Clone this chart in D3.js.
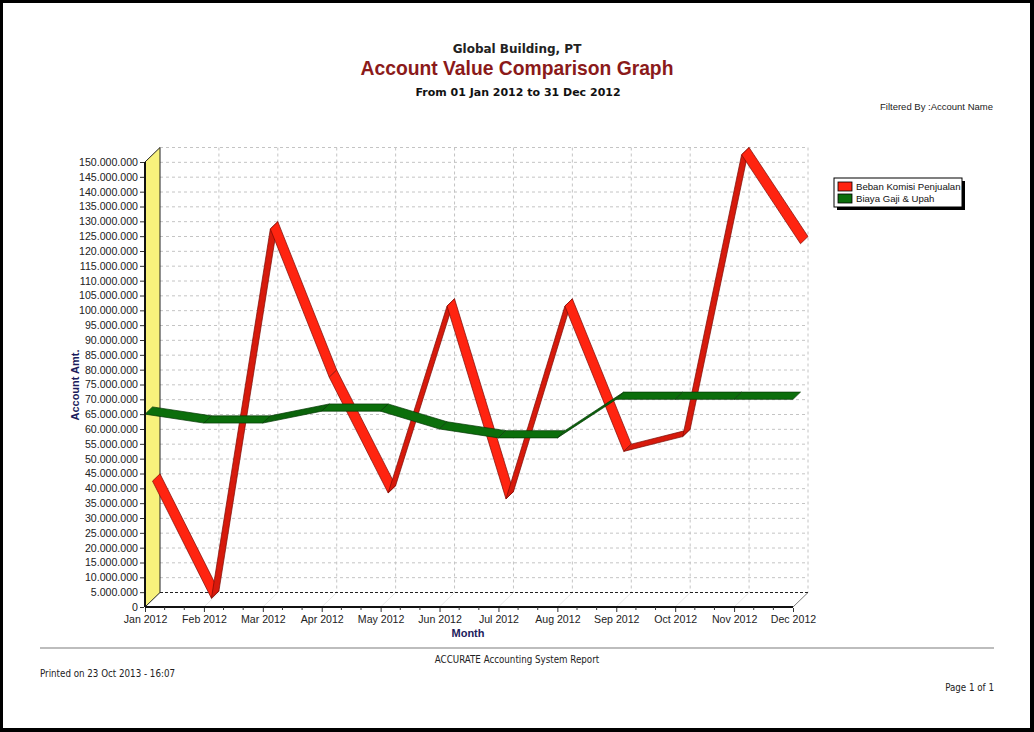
<!DOCTYPE html>
<html>
<head>
<meta charset="utf-8">
<script src="https://cdn.jsdelivr.net/npm/d3@7"></script>
<style>
  body { margin: 0; background: #000; }
  svg { display: block; }
</style>
</head>
<body>
<div id="chart"></div>
<script>
// *** DATA *** //
var months = ["Jan 2012", "Feb 2012", "Mar 2012", "Apr 2012", "May 2012", "Jun 2012",
              "Jul 2012", "Aug 2012", "Sep 2012", "Oct 2012", "Nov 2012", "Dec 2012"];
var beban_komisi = [40000000, 500000, 125000000, 75000000, 36000000, 99000000,
                    34000000, 99000000, 50000000, 55000000, 150000000, 120000000];
var biaya_gaji = [65000000, 62000000, 62000000, 66000000, 66000000, 60000000,
                  57000000, 57000000, 70000000, 70000000, 70000000, 70000000];
var series_names = ["Beban Komisi Penjualan", "Biaya Gaji & Upah"];
var y_ticks = d3.range(0, 150000001, 5000000);
// ************ //

var create_chart = function() {
  var width = 1034, height = 732;

  // Change these to fine-tune graph
  var plot = { left: 145, right: 793, top: 162, bottom: 607 };
  var depth = { dx: 15, dy: -14.5 };
  var label_font = "'Liberation Sans', Arial, sans-serif";
  var footer_font = "'Liberation Sans Narrow', 'DejaVu Sans Condensed', sans-serif";
  var navy = "#1c1c5c";
  //////////////////////////////////

  var svg = d3.select("#chart").append("svg")
      .attr("width", width)
      .attr("height", height);

  // page
  svg.append("rect")
      .attr("x", 3).attr("y", 3)
      .attr("width", width - 7).attr("height", height - 7)
      .attr("fill", "#fff");

  var x = d3.scalePoint().domain(months).range([plot.left, plot.right]);
  var y = d3.scaleLinear().domain([0, 150000000]).range([plot.bottom, plot.top]);
  var fmt = d3.formatLocale({ decimal: ",", thousands: ".", grouping: [3], currency: ["", ""] }).format(",.0f");

  // *** TITLES *** //
  svg.append("text")
      .attr("x", 517).attr("y", 53)
      .attr("text-anchor", "middle")
      .attr("font-family", "'DejaVu Sans', sans-serif")
      .attr("font-weight", "bold").attr("font-size", 12)
      .attr("fill", "#222")
      .text("Global Building, PT");

  svg.append("text")
      .attr("x", 517).attr("y", 75)
      .attr("text-anchor", "middle")
      .attr("font-family", label_font)
      .attr("font-weight", "bold").attr("font-size", 19.3)
      .attr("fill", "#8b1a1a")
      .text("Account Value Comparison Graph");

  svg.append("text")
      .attr("x", 518).attr("y", 96)
      .attr("text-anchor", "middle")
      .attr("font-family", "'DejaVu Sans', sans-serif")
      .attr("font-weight", "bold").attr("font-size", 11)
      .attr("fill", "#111")
      .text("From 01 Jan 2012 to 31 Dec 2012");

  svg.append("text")
      .attr("x", 993).attr("y", 110)
      .attr("text-anchor", "end")
      .attr("font-family", label_font)
      .attr("font-size", 9.5)
      .attr("fill", "#222")
      .text("Filtered By :Account Name");

  // *** BACK WALL + GRID *** //
  var back_left = plot.left + depth.dx;
  var back_right = plot.right + depth.dx;

  svg.append("rect")
      .attr("x", back_left).attr("y", plot.top + depth.dy)
      .attr("width", back_right - back_left)
      .attr("height", plot.bottom - plot.top)
      .attr("fill", "#fff");

  svg.selectAll(".hgrid")
      .data(y_ticks.slice(1))
    .enter().append("line")
      .attr("x1", back_left).attr("x2", back_right)
      .attr("y1", function(d) { return y(d) + depth.dy; })
      .attr("y2", function(d) { return y(d) + depth.dy; })
      .attr("stroke", "#c4c4c4").attr("stroke-dasharray", "3,3");

  svg.selectAll(".vgrid")
      .data(months.slice(1))
    .enter().append("line")
      .attr("x1", function(d) { return x(d) + depth.dx; })
      .attr("x2", function(d) { return x(d) + depth.dx; })
      .attr("y1", plot.top + depth.dy).attr("y2", plot.bottom + depth.dy)
      .attr("stroke", "#c4c4c4").attr("stroke-dasharray", "3,3");

  // floor diagonals
  svg.selectAll(".fgrid")
      .data(months.slice(1))
    .enter().append("line")
      .attr("x1", function(d) { return x(d); })
      .attr("x2", function(d) { return x(d) + depth.dx; })
      .attr("y1", plot.bottom).attr("y2", plot.bottom + depth.dy)
      .attr("stroke", function(d, i) { return i == months.length - 2 ? "#555" : "#e2e2e2"; })
      .attr("stroke-width", 0.8);

  // back floor edge
  svg.append("line")
      .attr("x1", back_left).attr("x2", back_right)
      .attr("y1", plot.bottom + depth.dy).attr("y2", plot.bottom + depth.dy)
      .attr("stroke", "#222").attr("stroke-dasharray", "3,2");

  // left wall
  svg.append("polygon")
      .attr("points", [
        [plot.left, plot.bottom],
        [back_left, plot.bottom + depth.dy],
        [back_left, plot.top + depth.dy],
        [plot.left, plot.top]
      ].join(" "))
      .attr("fill", "#f8f27c")
      .attr("stroke", "#222").attr("stroke-width", 1);

  // *** SERIES RIBBONS *** //
  var plot_ribbon = function(values, z0, z1, color_down, color_up, edge) {
    var g = svg.append("g");
    for (var i = 0; i < values.length - 1; i++) {
      var xa = x(months[i]), xb = x(months[i + 1]);
      var ya = y(values[i]), yb = y(values[i + 1]);
      var pts = [
        [xa + z0 * depth.dx, ya + z0 * depth.dy],
        [xb + z0 * depth.dx, yb + z0 * depth.dy],
        [xb + z1 * depth.dx, yb + z1 * depth.dy],
        [xa + z1 * depth.dx, ya + z1 * depth.dy]
      ];
      g.append("polygon")
          .attr("points", pts.join(" "))
          .attr("fill", values[i + 1] > values[i] ? color_up : color_down)
          .attr("stroke", edge).attr("stroke-width", 0.7)
          .attr("stroke-linejoin", "round");
    }
  }

  plot_ribbon(beban_komisi, 0.5, 1, "#ff2410", "#d61a0c", "#7a0a04");
  plot_ribbon(biaya_gaji, 0, 0.5, "#0b6e0b", "#0a630a", "#053805");

  // *** AXES *** //
  svg.append("line")
      .attr("x1", plot.left).attr("x2", plot.left)
      .attr("y1", plot.top).attr("y2", plot.bottom)
      .attr("stroke", "#111").attr("stroke-width", 2);

  svg.append("line")
      .attr("x1", plot.left).attr("x2", plot.right)
      .attr("y1", plot.bottom).attr("y2", plot.bottom)
      .attr("stroke", "#111").attr("stroke-width", 2);

  var y_axis = svg.append("g")
      .attr("transform", "translate(" + (plot.left - 1) + ",0)")
      .call(d3.axisLeft(y).tickValues(y_ticks).tickFormat(fmt).tickSize(4).tickPadding(2));
  y_axis.select(".domain").remove();
  y_axis.selectAll("line").attr("stroke", "#333");
  y_axis.selectAll("text")
      .attr("font-family", label_font).attr("font-size", 10.6).attr("fill", "#222");

  var minor_x = [];
  for (var i = 0; i < months.length - 1; i++) {
    minor_x.push(x(months[i]) + x.step() / 3);
    minor_x.push(x(months[i]) + 2 * x.step() / 3);
  }
  svg.selectAll(".minor-x")
      .data(minor_x)
    .enter().append("line")
      .attr("x1", function(d) { return d; }).attr("x2", function(d) { return d; })
      .attr("y1", plot.bottom).attr("y2", plot.bottom + 3)
      .attr("stroke", "#333");

  var x_axis = svg.append("g")
      .attr("transform", "translate(0," + (plot.bottom + 1) + ")")
      .call(d3.axisBottom(x).tickSize(4).tickPadding(3));
  x_axis.select(".domain").remove();
  x_axis.selectAll("line").attr("stroke", "#333");
  x_axis.selectAll("text")
      .attr("font-family", label_font).attr("font-size", 10.6).attr("fill", "#222");

  svg.append("text")
      .attr("transform", "translate(79,385) rotate(-90)")
      .attr("text-anchor", "middle")
      .attr("font-family", label_font)
      .attr("font-weight", "bold").attr("font-size", 11)
      .attr("fill", navy)
      .text("Account Amt.");

  svg.append("text")
      .attr("x", 468).attr("y", 637)
      .attr("text-anchor", "middle")
      .attr("font-family", label_font)
      .attr("font-weight", "bold").attr("font-size", 11)
      .attr("fill", navy)
      .text("Month");

  // *** LEGEND *** //
  var legend = svg.append("g").attr("transform", "translate(834,178)");
  legend.append("rect")
      .attr("x", 3).attr("y", 3).attr("width", 128).attr("height", 29)
      .attr("fill", "#000");
  legend.append("rect")
      .attr("x", 0).attr("y", 0).attr("width", 128).attr("height", 29)
      .attr("fill", "#fff").attr("stroke", "#000");

  var legend_colors = ["#ff2410", "#0b6e0b"];
  series_names.forEach(function(name, i) {
    legend.append("rect")
        .attr("x", 4).attr("y", 4 + i * 12)
        .attr("width", 14).attr("height", 9)
        .attr("fill", legend_colors[i]).attr("stroke", "#000").attr("stroke-width", 0.8);
    legend.append("text")
        .attr("x", 22).attr("y", 12 + i * 12)
        .attr("font-family", label_font).attr("font-size", 9.6)
        .attr("fill", "#111")
        .text(name);
  });

  // *** FOOTER *** //
  svg.append("line")
      .attr("x1", 40).attr("x2", 994)
      .attr("y1", 648).attr("y2", 648)
      .attr("stroke", "#bdbdbd").attr("stroke-width", 2);

  svg.append("text")
      .attr("x", 517).attr("y", 663)
      .attr("text-anchor", "middle")
      .attr("font-family", footer_font).attr("font-size", 9.7)
      .attr("fill", "#222")
      .text("ACCURATE Accounting System Report");

  svg.append("text")
      .attr("x", 40).attr("y", 677)
      .attr("font-family", footer_font).attr("font-size", 9.7)
      .attr("fill", "#222")
      .text("Printed on 23 Oct 2013 - 16:07");

  svg.append("text")
      .attr("x", 994).attr("y", 691)
      .attr("text-anchor", "end")
      .attr("font-family", footer_font).attr("font-size", 9.7)
      .attr("fill", "#222")
      .text("Page 1 of 1");
}

create_chart();
</script>
</body>
</html>
